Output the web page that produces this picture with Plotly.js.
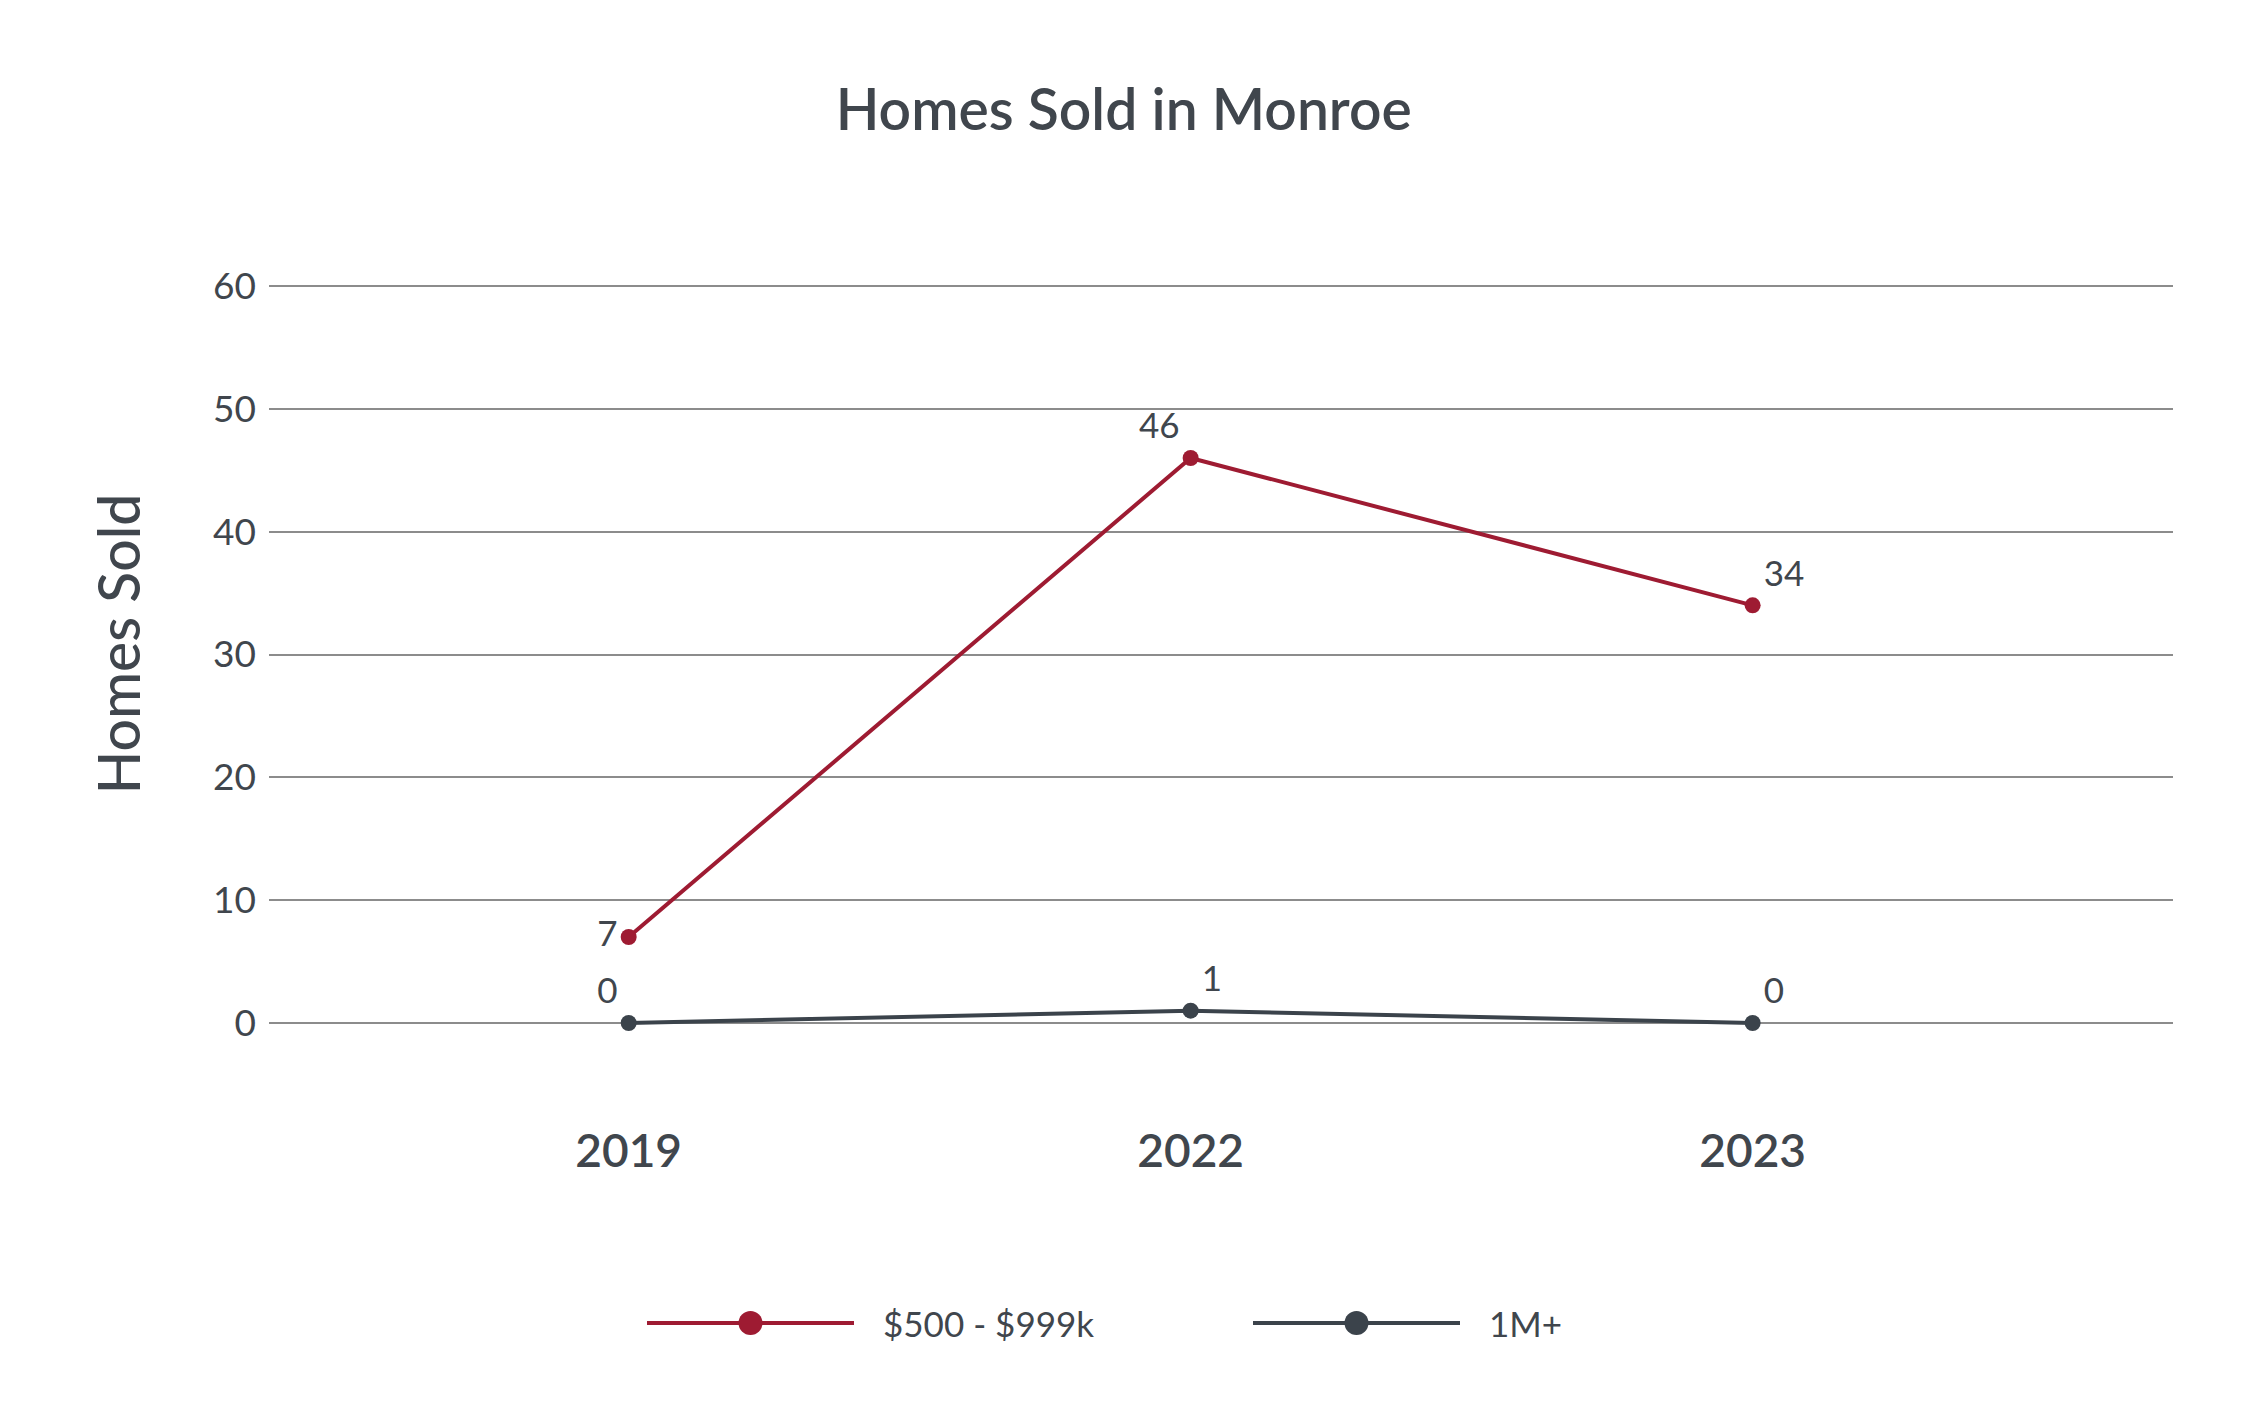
<!DOCTYPE html>
<html>
<head>
<meta charset="utf-8">
<script src="https://cdn.plot.ly/plotly-3.0.1.min.js"></script>
<style>
  html, body { margin: 0; padding: 0; background: #ffffff; }
  #chart { width: 2243px; height: 1411px; }
</style>
</head>
<body>
<div id="chart"></div>
<script>
// ---- data ----
const years = ['2019', '2022', '2023'];
const midTier = [7, 46, 34];      // $500 - $999k
const topTier = [0, 1, 0];        // 1M+
const seriesNames = ['$500 - $999k', '1M+'];
const yTicks = [0, 10, 20, 30, 40, 50, 60];
const chartTitle = 'Homes Sold in Monroe';
const yTitle = 'Homes Sold';

// ---- styles ----
const RED = '#9e1b32';
const DARK = '#3b434b';
const TEXT = '#40464d';
const FONT = 'Lato, "Open Sans", sans-serif';

const traces = [
  {
    x: years, y: midTier, name: seriesNames[0], type: 'scatter', mode: 'lines+markers+text',
    line: { color: RED, width: 4 }, marker: { color: RED, size: 16 },
    text: midTier.map(String),
    textposition: ['middle left', 'top left', 'top right'],
    textfont: { family: FONT, size: 35, color: TEXT, weight: 400 },
    cliponaxis: false, hoverinfo: 'skip', showlegend: false
  },
  {
    x: years, y: topTier, name: seriesNames[1], type: 'scatter', mode: 'lines+markers+text',
    line: { color: DARK, width: 4 }, marker: { color: DARK, size: 16 },
    text: topTier.map(String),
    textposition: ['top left', 'top right', 'top right'],
    textfont: { family: FONT, size: 35, color: TEXT, weight: 400 },
    cliponaxis: false, hoverinfo: 'skip', showlegend: false
  }
];

// custom legend (long line samples like the reference)
const plotL = 269, plotR = 2173, plotT = 188, plotB = 1100;
const pw = plotR - plotL, ph = plotB - plotT;
const px = v => (v - plotL) / pw;
const py = v => (plotB - v) / ph;
const legendY = 1323;
const legendItems = [
  { name: seriesNames[0], color: RED, x0: 647, x1: 854, tx: 881 },
  { name: seriesNames[1], color: DARK, x0: 1253, x1: 1460, tx: 1487 }
];
const shapes = [];
const annotations = [];
legendItems.forEach(it => {
  shapes.push({ type: 'line', xref: 'paper', yref: 'paper',
    x0: px(it.x0), x1: px(it.x1), y0: py(legendY), y1: py(legendY),
    line: { color: it.color, width: 4 } });
  const cx = px((it.x0 + it.x1) / 2);
  shapes.push({ type: 'circle', xref: 'paper', yref: 'paper',
    xsizemode: 'pixel', ysizemode: 'pixel', xanchor: cx, yanchor: py(legendY),
    x0: -12, x1: 12, y0: -12, y1: 12,
    fillcolor: it.color, line: { color: it.color, width: 0 } });
  annotations.push({ xref: 'paper', yref: 'paper', x: px(it.tx), y: py(legendY),
    xanchor: 'left', yanchor: 'middle', showarrow: false, text: it.name,
    font: { family: FONT, size: 35, color: TEXT, weight: 400 } });
});

const layout = {
  width: 2243, height: 1411,
  paper_bgcolor: '#ffffff', plot_bgcolor: '#ffffff',
  margin: { l: plotL, r: 2243 - plotR, t: plotT, b: 1411 - plotB, pad: 0 },
  font: { family: FONT, color: TEXT },
  title: {
    text: chartTitle, x: 0.501, xanchor: 'center', y: 1 - 110 / 1411, yanchor: 'middle',
    xref: 'container', yref: 'container',
    font: { family: FONT, size: 57, color: TEXT, weight: 600 }
  },
  xaxis: {
    type: 'category', range: [-0.64, 2.748],
    showgrid: false, zeroline: false, showline: false, ticks: '',
    tickfont: { family: FONT, size: 46, color: TEXT, weight: 600 },
    ticklabelstandoff: 20, fixedrange: true
  },
  yaxis: {
    range: [-6.27, 67.98], tickvals: yTicks, ticktext: yTicks.map(String),
    showgrid: true, gridcolor: '#8c8c8c', gridwidth: 2,
    zeroline: false, showline: false, ticks: '',
    tickfont: { family: FONT, size: 37, color: TEXT, weight: 400 },
    ticklabelstandoff: 12,
    title: { text: yTitle, standoff: 54, font: { family: FONT, size: 57, color: TEXT, weight: 500 } },
    fixedrange: true
  },
  showlegend: false,
  shapes: shapes,
  annotations: annotations,
  hovermode: false
};

Plotly.newPlot('chart', traces, layout, { displayModeBar: false, staticPlot: true });
</script>
</body>
</html>
